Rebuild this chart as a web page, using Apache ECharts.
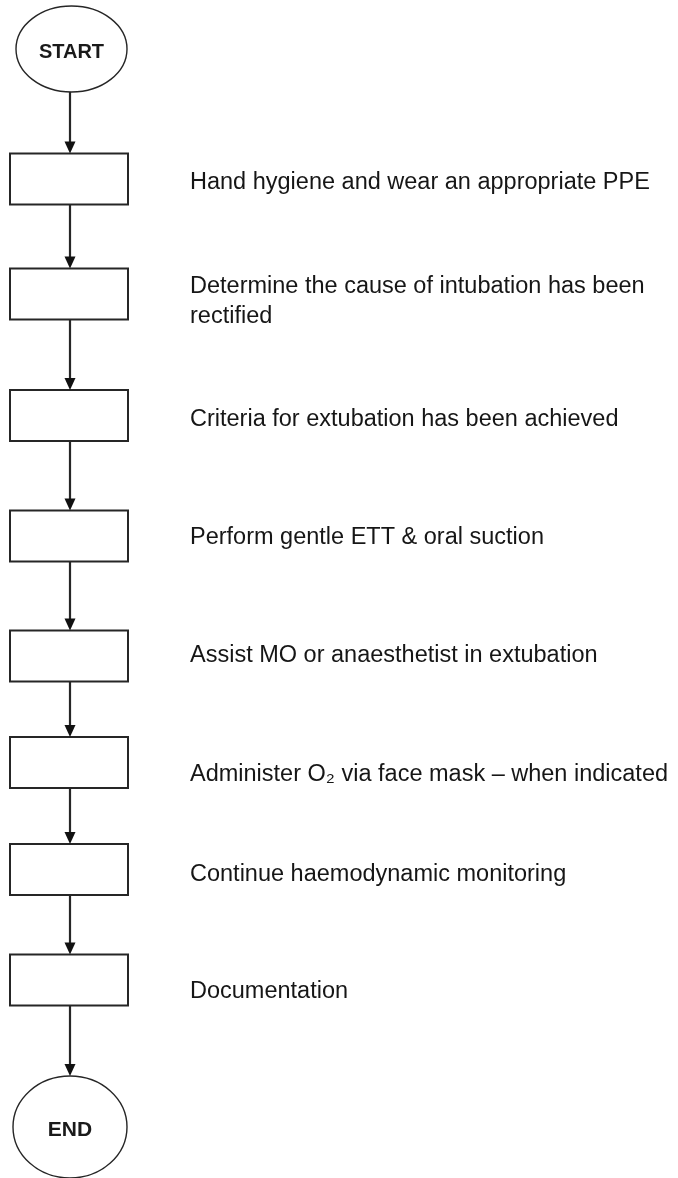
<!DOCTYPE html>
<html>
<head>
<meta charset="utf-8">
<script src="https://cdn.jsdelivr.net/npm/echarts@6/dist/echarts.min.js"></script>
<style>
  html, body { margin: 0; padding: 0; background: #ffffff; }
  #chart { width: 678px; height: 1178px; }
</style>
</head>
<body>
<div id="chart"></div>
<script>
// ---- Data ----
const terminalLabels = ['START', 'END'];
const terminalRows = [49, 1127];
const stepLabels = [
  'Hand hygiene and wear an appropriate PPE',
  'Determine the cause of intubation has been\nrectified',
  'Criteria for extubation has been achieved',
  'Perform gentle ETT & oral suction',
  'Assist MO or anaesthetist in extubation',
  'Administer O\u2082 via face mask \u2013 when indicated',
  'Continue haemodynamic monitoring',
  'Documentation'
];
const stepRows = [179, 294, 415.5, 536, 656, 762.5, 869.5, 980];
const labelRows = [182.5, 302, 420, 538, 656, 775, 875, 992];

// ---- Layout / style constants ----
const FLOW_X = 69;
const BOX_W = 118, BOX_H = 51;
const START_RX = 55.5, START_RY = 43;
const END_RX = 57, END_RY = 51;
const LABEL_X = 190;
const HEAD_W = 11, HEAD_H = 12;
const INK = '#262626';
const FONT = '"Liberation Sans", Arial, Helvetica, sans-serif';

// nodes in flow order: START, steps..., END
const flowRows = [terminalRows[0]].concat(stepRows, [terminalRows[1]]);
const halfH = [START_RY].concat(stepRows.map(() => BOX_H / 2), [END_RY]);
const arrowData = [];
for (let i = 0; i < flowRows.length - 1; i++) {
  arrowData.push([flowRows[i] + halfH[i], flowRows[i + 1] - halfH[i + 1]]);
}

const chart = echarts.init(document.getElementById('chart'), null, { renderer: 'canvas' });

chart.setOption({
  animation: false,
  backgroundColor: '#ffffff',
  grid: { left: 0, right: 0, top: 0, bottom: 0 },
  xAxis: { type: 'value', min: 0, max: 678, show: false },
  yAxis: { type: 'value', min: 0, max: 1178, inverse: true, show: false },
  series: [
    {
      name: 'steps',
      type: 'custom',
      data: stepRows.map((r, i) => [FLOW_X, r, i]),
      renderItem: function (params, api) {
        const c = api.coord([api.value(0), api.value(1)]);
        const s = api.size([BOX_W, BOX_H]);
        return {
          type: 'rect',
          shape: { x: c[0] - s[0] / 2, y: c[1] - s[1] / 2, width: s[0], height: s[1] },
          style: { fill: '#ffffff', stroke: INK, lineWidth: 2 }
        };
      }
    },
    {
      name: 'terminals',
      type: 'custom',
      data: terminalRows.map((r, i) => [FLOW_X + (i === 0 ? 2.5 : 1), r, i]),
      renderItem: function (params, api) {
        const i = api.value(2);
        const c = api.coord([api.value(0), api.value(1)]);
        const s = api.size(i === 0 ? [START_RX, START_RY] : [END_RX, END_RY]);
        return {
          type: 'group',
          children: [
            {
              type: 'ellipse',
              shape: { cx: c[0], cy: c[1], rx: s[0], ry: s[1] },
              style: { fill: '#ffffff', stroke: INK, lineWidth: 1.4 }
            },
            {
              type: 'text',
              x: c[0],
              y: c[1] + 3,
              style: {
                text: terminalLabels[i],
                fill: '#1a1a1a',
                fontFamily: FONT,
                fontWeight: 'bold',
                fontSize: i === 0 ? 20 : 21,
                align: 'center',
                verticalAlign: 'middle'
              }
            }
          ]
        };
      }
    },
    {
      name: 'arrows',
      type: 'custom',
      data: arrowData,
      renderItem: function (params, api) {
        const p1 = api.coord([FLOW_X + 1, api.value(0)]);
        const p2 = api.coord([FLOW_X + 1, api.value(1)]);
        return {
          type: 'group',
          children: [
            {
              type: 'line',
              shape: { x1: p1[0], y1: p1[1], x2: p2[0], y2: p2[1] - HEAD_H + 1 },
              style: { stroke: INK, lineWidth: 2.2 }
            },
            {
              type: 'polygon',
              shape: { points: [[p2[0] - HEAD_W / 2, p2[1] - HEAD_H], [p2[0] + HEAD_W / 2, p2[1] - HEAD_H], [p2[0], p2[1]]] },
              style: { fill: '#111111' }
            }
          ]
        };
      }
    },
    {
      name: 'labels',
      type: 'custom',
      data: labelRows.map((r, i) => [LABEL_X, r, i]),
      renderItem: function (params, api) {
        const i = api.value(2);
        const c = api.coord([api.value(0), api.value(1)]);
        return {
          type: 'text',
          x: c[0],
          y: c[1],
          style: {
            text: stepLabels[i],
            fill: '#161616',
            fontFamily: FONT,
            fontSize: 23.5,
            lineHeight: 30,
            align: 'left',
            verticalAlign: 'middle'
          }
        };
      }
    }
  ]
});
</script>
</body>
</html>
